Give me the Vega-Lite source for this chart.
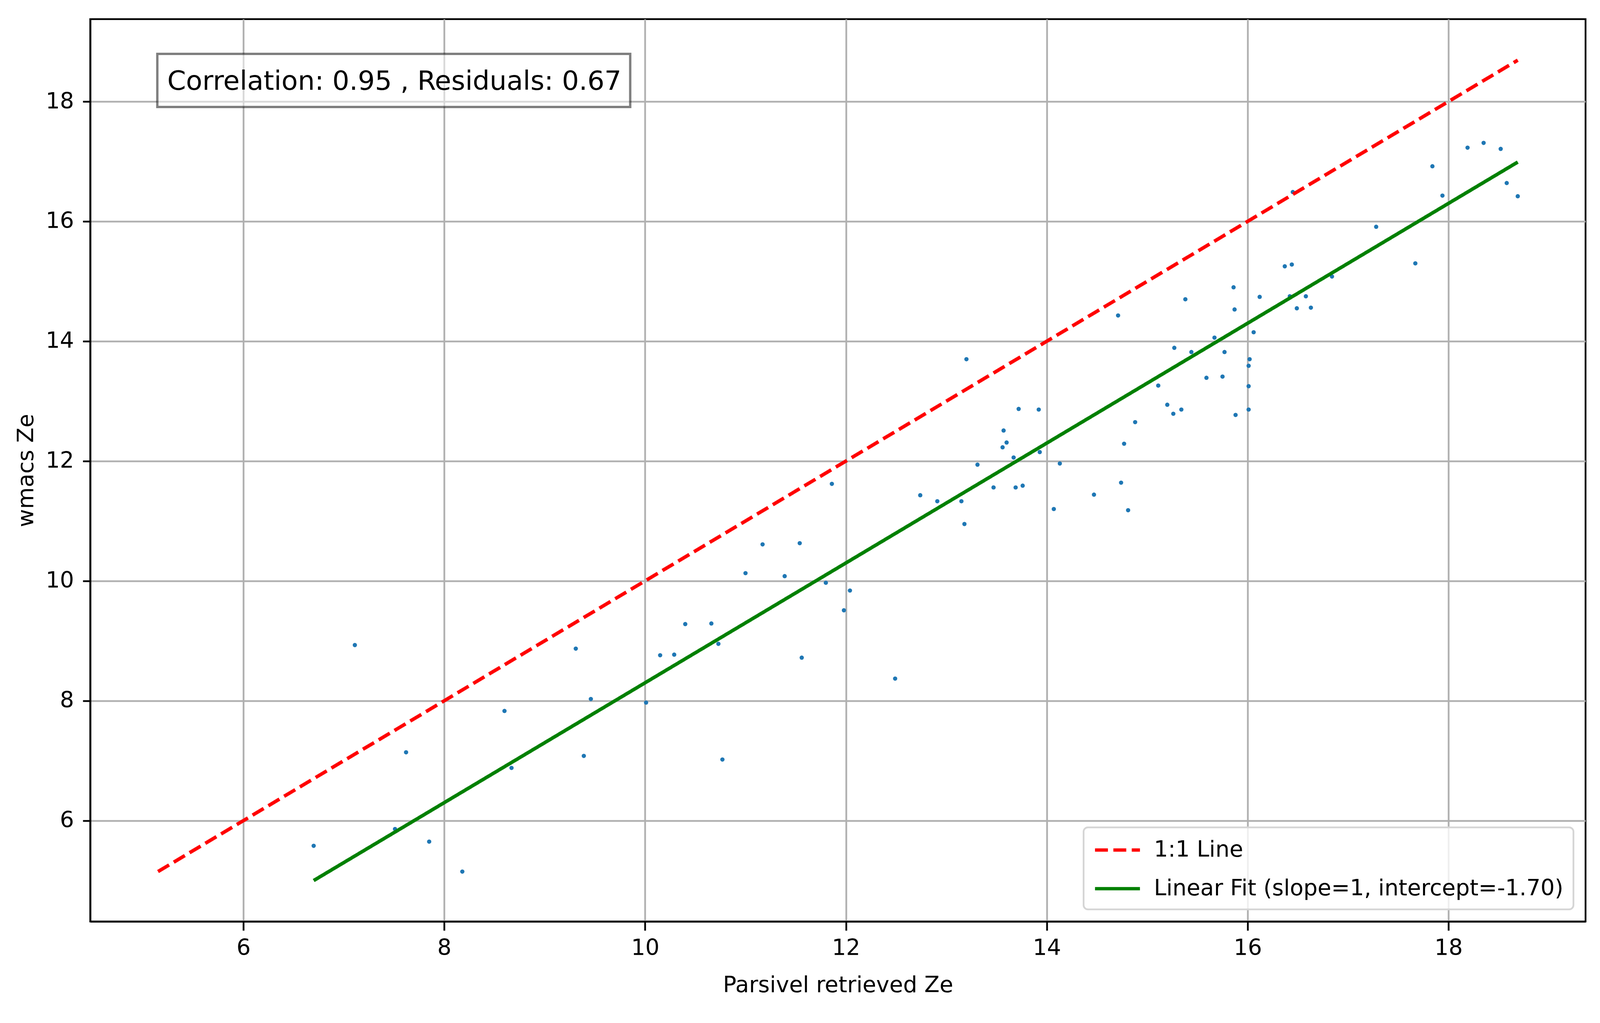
{
  "$schema": "https://vega.github.io/schema/vega-lite/v6.json",
  "width": 3828,
  "height": 2311,
  "autosize": {"type": "none"},
  "padding": {"left": 231, "top": 49, "right": 41, "bottom": 260},
  "background": "white",
  "config": {
    "font": "DejaVu Sans",
    "view": {"stroke": "black", "strokeWidth": 4.5},
    "axis": {
      "domainColor": "black", "domainWidth": 4.5,
      "tickColor": "black", "tickWidth": 4.5,
      "labelFont": "DejaVu Sans", "labelFontSize": 57, "labelColor": "black",
      "titleFont": "DejaVu Sans", "titleFontSize": 57, "titleFontWeight": "normal", "titleColor": "black",
      "gridColor": "#b0b0b0", "gridWidth": 4.5, "gridOpacity": 1, "format": "d"
    },
    "legend": {
      "orient": "bottom-right", "offset": 31, "title": null,
      "labelFont": "DejaVu Sans", "labelFontSize": 57, "labelColor": "black", "labelLimit": 0,
      "symbolType": "M-1,0L3,0", "symbolSize": 3306, "symbolStrokeWidth": 8.5,
      "labelOffset": 89, "padding": 25, "rowPadding": 38,
      "fillColor": "rgba(255,255,255,0.8)", "strokeColor": "#d5d5d5", "strokeWidth": 4.5, "cornerRadius": 11
    }
  },
  "datasets": {
    "points": [
      {"x": 6.70, "y": 5.58}, {"x": 7.11, "y": 8.93}, {"x": 7.51, "y": 5.86}, {"x": 7.62, "y": 7.14},
      {"x": 7.85, "y": 5.65}, {"x": 8.18, "y": 5.15}, {"x": 8.60, "y": 7.83}, {"x": 8.67, "y": 6.88},
      {"x": 9.31, "y": 8.87}, {"x": 9.39, "y": 7.08}, {"x": 9.46, "y": 8.03}, {"x": 10.01, "y": 7.97},
      {"x": 10.15, "y": 8.76}, {"x": 10.29, "y": 8.77}, {"x": 10.40, "y": 9.28}, {"x": 10.66, "y": 9.29},
      {"x": 10.73, "y": 8.95}, {"x": 10.77, "y": 7.02}, {"x": 11.00, "y": 10.13}, {"x": 11.17, "y": 10.61},
      {"x": 11.39, "y": 10.08}, {"x": 11.54, "y": 10.63}, {"x": 11.56, "y": 8.72}, {"x": 11.80, "y": 9.97},
      {"x": 11.86, "y": 11.62}, {"x": 11.98, "y": 9.51}, {"x": 12.04, "y": 9.84}, {"x": 12.49, "y": 8.37},
      {"x": 12.74, "y": 11.43}, {"x": 12.91, "y": 11.33}, {"x": 13.15, "y": 11.33}, {"x": 13.18, "y": 10.95},
      {"x": 13.20, "y": 13.70}, {"x": 13.31, "y": 11.94}, {"x": 13.47, "y": 11.56}, {"x": 13.56, "y": 12.23},
      {"x": 13.57, "y": 12.51}, {"x": 13.60, "y": 12.31}, {"x": 13.67, "y": 12.06}, {"x": 13.69, "y": 11.56},
      {"x": 13.72, "y": 12.87}, {"x": 13.76, "y": 11.59}, {"x": 13.92, "y": 12.86}, {"x": 13.93, "y": 12.15},
      {"x": 14.07, "y": 11.20}, {"x": 14.13, "y": 11.96}, {"x": 14.47, "y": 11.44}, {"x": 14.71, "y": 14.43},
      {"x": 14.74, "y": 11.64}, {"x": 14.77, "y": 12.29}, {"x": 14.81, "y": 11.18}, {"x": 14.88, "y": 12.65},
      {"x": 15.11, "y": 13.26}, {"x": 15.20, "y": 12.94}, {"x": 15.26, "y": 12.79}, {"x": 15.27, "y": 13.89},
      {"x": 15.34, "y": 12.86}, {"x": 15.38, "y": 14.70}, {"x": 15.44, "y": 13.82}, {"x": 15.59, "y": 13.39},
      {"x": 15.67, "y": 14.06}, {"x": 15.75, "y": 13.41}, {"x": 15.77, "y": 13.82}, {"x": 15.86, "y": 14.90},
      {"x": 15.87, "y": 14.53}, {"x": 15.88, "y": 12.77}, {"x": 16.01, "y": 12.86}, {"x": 16.01, "y": 13.25},
      {"x": 16.01, "y": 13.59}, {"x": 16.02, "y": 13.70}, {"x": 16.06, "y": 14.15}, {"x": 16.12, "y": 14.74},
      {"x": 16.37, "y": 15.25}, {"x": 16.44, "y": 15.28}, {"x": 16.42, "y": 14.75}, {"x": 16.45, "y": 16.49},
      {"x": 16.49, "y": 14.55}, {"x": 16.58, "y": 14.75}, {"x": 16.63, "y": 14.56}, {"x": 16.84, "y": 15.08},
      {"x": 17.28, "y": 15.91}, {"x": 17.67, "y": 15.30}, {"x": 17.84, "y": 16.92}, {"x": 17.94, "y": 16.43},
      {"x": 18.19, "y": 17.23}, {"x": 18.35, "y": 17.31}, {"x": 18.52, "y": 17.21}, {"x": 18.58, "y": 16.64},
      {"x": 18.69, "y": 16.42}
    ],
    "lines": [
      {"series": "1:1 Line", "x": 5.15, "y": 5.15},
      {"series": "1:1 Line", "x": 18.69, "y": 18.69},
      {"series": "Linear Fit (slope=1, intercept=-1.70)", "x": 6.70, "y": 5.00},
      {"series": "Linear Fit (slope=1, intercept=-1.70)", "x": 18.69, "y": 16.99}
    ],
    "note": [
      {"label": "Correlation: 0.95 , Residuals: 0.67"}
    ]
  },
  "layer": [
    {
      "data": {"name": "points"},
      "mark": {"type": "circle", "size": 120, "color": "#1f77b4", "opacity": 1},
      "encoding": {
        "x": {
          "field": "x", "type": "quantitative",
          "scale": {"domain": [4.475, 19.365], "nice": false, "zero": false},
          "axis": {"values": [6, 8, 10, 12, 14, 16, 18], "title": "Parsivel retrieved Ze", "tickSize": 23, "labelPadding": 17, "titlePadding": 39}
        },
        "y": {
          "field": "y", "type": "quantitative",
          "scale": {"domain": [4.317, 19.375], "nice": false, "zero": false},
          "axis": {"values": [6, 8, 10, 12, 14, 16, 18], "title": "wmacs Ze", "tickSize": 19, "labelPadding": 23, "titlePadding": 20}
        }
      }
    },
    {
      "data": {"name": "lines"},
      "mark": {"type": "line", "strokeWidth": 9},
      "encoding": {
        "x": {"field": "x", "type": "quantitative"},
        "y": {"field": "y", "type": "quantitative"},
        "color": {
          "field": "series", "type": "nominal",
          "scale": {"domain": ["1:1 Line", "Linear Fit (slope=1, intercept=-1.70)"], "range": ["#ff0000", "#008000"]},
          "legend": {"title": null}
        },
        "strokeDash": {
          "field": "series", "type": "nominal",
          "scale": {"domain": ["1:1 Line", "Linear Fit (slope=1, intercept=-1.70)"], "range": [[33, 14], [1, 0]]},
          "legend": {"title": null}
        }
      }
    },
    {
      "data": {"name": "note"},
      "mark": {"type": "rect", "fill": "white", "fillOpacity": 0.5, "stroke": "black", "strokeOpacity": 0.5, "strokeWidth": 6},
      "encoding": {
        "x": {"datum": 5.143, "type": "quantitative"},
        "x2": {"datum": 9.852},
        "y": {"datum": 18.795, "type": "quantitative"},
        "y2": {"datum": 17.909}
      }
    },
    {
      "data": {"name": "note"},
      "mark": {"type": "text", "align": "left", "baseline": "alphabetic", "font": "DejaVu Sans", "fontSize": 68.5, "color": "black"},
      "encoding": {
        "text": {"field": "label"},
        "x": {"datum": 5.242, "type": "quantitative"},
        "y": {"datum": 18.196, "type": "quantitative"}
      }
    }
  ]
}
